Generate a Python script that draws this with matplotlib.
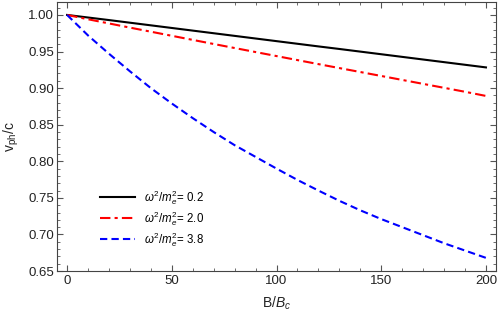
import numpy as np
import matplotlib
matplotlib.use("Agg")
import matplotlib.pyplot as plt

plt.rcParams['font.family'] = ['Liberation Sans', 'DejaVu Sans']
plt.rcParams['mathtext.fontset'] = 'custom'
plt.rcParams['mathtext.rm'] = 'Liberation Sans'
plt.rcParams['mathtext.it'] = 'Liberation Sans:italic'
plt.rcParams['mathtext.bf'] = 'Liberation Sans:bold'

# B/B_c sample points
b = [0, 10, 20, 30, 40, 50, 60, 70, 80, 90, 100,
     110, 120, 130, 140, 150, 160, 170, 180, 190, 200]

# v_ph/c for each w^2/m_e^2
v_02 = [1.000, 0.9965, 0.9930, 0.9894, 0.9858, 0.9822, 0.9786, 0.9750, 0.9714, 0.9678, 0.9642,
        0.9606, 0.9570, 0.9535, 0.9499, 0.9463, 0.9427, 0.9391, 0.9355, 0.9319, 0.9283]
v_20 = [1.000, 0.9941, 0.9884, 0.9827, 0.9771, 0.9715, 0.9659, 0.9603, 0.9548, 0.9493, 0.9438,
        0.9383, 0.9328, 0.9274, 0.9220, 0.9166, 0.9112, 0.9058, 0.9004, 0.8950, 0.8893]
v_38 = [1.000, 0.972, 0.947, 0.923, 0.900, 0.879, 0.859, 0.840, 0.822, 0.806, 0.790,
        0.7745, 0.760, 0.746, 0.733, 0.721, 0.710, 0.699, 0.688, 0.678, 0.668]

labels = [r'$\omega^2/m_e^2$= 0.2', r'$\omega^2/m_e^2$= 2.0', r'$\omega^2/m_e^2$= 3.8']

fig = plt.figure(figsize=(4.98, 3.2), dpi=100)
ax = fig.add_axes([0.1145, 0.153, 0.8815, 0.841])

ax.plot(b, v_02, color='black', lw=1.5, label=labels[0])
ax.plot(b, v_20, color='red', lw=1.5, dashes=(5, 2, 1.5, 2), label=labels[1])
ax.plot(b, v_38, color='blue', lw=1.5, dashes=(3.5, 2), label=labels[2])

ax.set_xlim(-4.8, 204.8)
ax.set_ylim(0.65, 1.0178)
ax.set_xticks([0, 50, 100, 150, 200])
ax.set_xticks(np.arange(0, 201, 10), minor=True)
ax.set_yticks([0.65, 0.70, 0.75, 0.80, 0.85, 0.90, 0.95, 1.00])
ax.set_yticks(np.arange(0.65, 1.0101, 0.01), minor=True)
ax.yaxis.set_major_formatter(matplotlib.ticker.FormatStrFormatter('%.2f'))

ax.tick_params(which='both', direction='in', top=True, right=True, color='#555555',
               labelsize=9.5, labelcolor='#222222')
ax.tick_params(which='major', length=4.5, width=0.8, pad=3)
ax.tick_params(axis='y', which='major', pad=2)
ax.tick_params(which='minor', length=2.5, width=0.6)
for s in ax.spines.values():
    s.set_color('#444444')
    s.set_linewidth(0.8)

ax.set_xlabel('B/$B_c$', fontsize=10, color='#222222', labelpad=5)
ax.set_ylabel(r'v$_{\mathrm{ph}}$/c', fontsize=10, color='#222222', labelpad=5)

ax.legend(loc='lower left', bbox_to_anchor=(0.075, 0.045), frameon=False, fontsize=8.3,
          handlelength=3.05, handletextpad=0.7, labelspacing=0.2)

fig.savefig('out.png', dpi=100)
